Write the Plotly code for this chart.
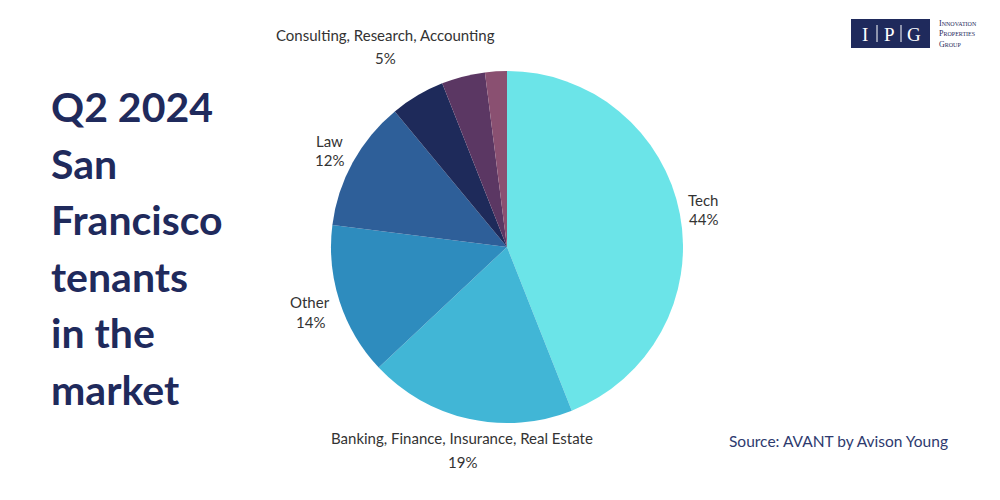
import plotly.graph_objects as go

sectors = ["Tech", "Banking, Finance, Insurance, Real Estate", "Other", "Law",
           "Consulting, Research, Accounting", "Sector F", "Sector G"]
shares = [44, 19, 14, 12, 5, 4, 2]
colors = ["#6BE4E8", "#41B6D6", "#2E8CBE", "#2E5F99", "#1E2A5A", "#5B3763", "#8A5071"]

title_lines = ["Q2 2024", "San", "Francisco", "tenants", "in the", "market"]
navy = "#1F2A5C"

# label spots (pixel centre of name line, pixel centre of % line) for the labelled slices
label_spots = {
    "Tech": (703, 200, 219),
    "Banking, Finance, Insurance, Real Estate": (462, 438, 462),
    "Other": (310, 302, 322),
    "Law": (329, 141, 160),
    "Consulting, Research, Accounting": (385, 35, 58),
}

# page body has an 8px margin, so shift everything back by that
def px(x):
    return (x - 8) / 1000

def py(y):
    return 1 - (y - 8) / 500

fig = go.Figure()
fig.add_trace(go.Pie(
    labels=sectors,
    values=shares,
    textinfo="none",
    sort=False,
    direction="clockwise",
    rotation=0,
    marker=dict(colors=colors, line=dict(width=0)),
    domain=dict(x=[px(331), px(683)], y=[py(423), py(71)]),
    showlegend=False,
    hoverinfo="label+percent",
))

for name, val in zip(sectors, shares):
    if name not in label_spots:
        continue
    x, y1, y2 = label_spots[name]
    for txt, yy in [(name, y1), (f"{val}%", y2)]:
        fig.add_annotation(
            text=txt, x=px(x), y=py(yy), xref="paper", yref="paper",
            xanchor="center", yanchor="middle", showarrow=False,
            font=dict(family="Lato", size=15, color="#333333"),
        )

# title block on the left
for i, line in enumerate(title_lines):
    fig.add_annotation(
        text=f"<b>{line}</b>", x=px(49), y=py(107 + i * 56.4),
        xref="paper", yref="paper", xanchor="left", yanchor="middle",
        showarrow=False, font=dict(family="Lato", size=41, color=navy),
    )

fig.add_annotation(
    text="Source: AVANT by Avison Young", x=px(950), y=py(441),
    xref="paper", yref="paper", xanchor="right", yanchor="middle",
    showarrow=False, font=dict(family="Lato", size=15.5, color="#2E3A6E"),
)

# logo
fig.add_shape(type="rect", xref="paper", yref="paper",
              x0=px(851), x1=px(930), y0=py(48), y1=py(19),
              fillcolor=navy, line=dict(width=0))
for letter, lx in [("I", 865), ("P", 889), ("G", 914)]:
    fig.add_annotation(
        text=letter, x=px(lx), y=py(34), xref="paper", yref="paper",
        xanchor="center", yanchor="middle", showarrow=False,
        font=dict(family="Liberation Serif", size=19, color="white"),
    )
for dx in [877, 901]:
    fig.add_shape(type="line", xref="paper", yref="paper",
                  x0=px(dx), x1=px(dx), y0=py(42), y1=py(25),
                  line=dict(color="white", width=1))
fig.add_annotation(
    text="I<span style='font-size:6px'>NNOVATION</span><br>P<span style='font-size:6px'>ROPERTIES</span><br>G<span style='font-size:6px'>ROUP</span>",
    x=px(937), y=py(34), xref="paper", yref="paper", xanchor="left", yanchor="middle",
    align="left", showarrow=False,
    font=dict(family="Liberation Serif", size=8, color=navy),
)

fig.update_layout(
    width=1000, height=500,
    margin=dict(l=0, r=0, t=0, b=0),
    paper_bgcolor="white", plot_bgcolor="white",
)

fig.write_html("out.html")
